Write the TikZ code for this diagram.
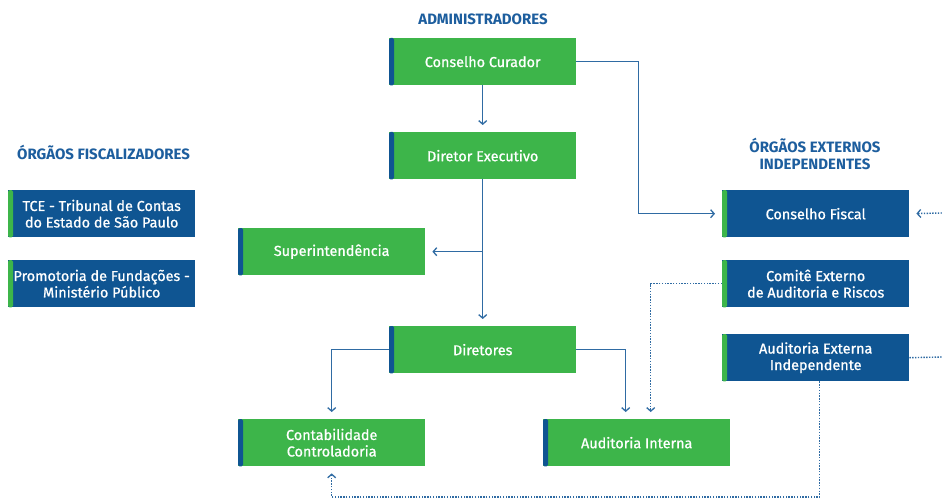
\documentclass[tikz,border=0pt]{standalone}
\usepackage{fontspec}
\setmainfont{Fira Sans}
\newfontfamily\boxfont{Fira Sans}[FakeBold=0.9]
\usetikzlibrary{arrows.meta}
\definecolor{gr}{HTML}{3DB54A}
\definecolor{bl}{HTML}{0F5592}
\definecolor{ln}{HTML}{2F6BA3}
\definecolor{tt}{HTML}{1D5E9E}
\begin{document}
\begin{tikzpicture}[x=1pt,y=-1pt,
  box/.style={rectangle,anchor=north west,minimum width=187pt,minimum height=47pt,inner sep=0pt,text=white,align=center,font=\boxfont\fontsize{14.4}{16.5}\selectfont},
  gbox/.style={box,fill=gr},
  bbox/.style={box,fill=bl},
  title/.style={text=tt,font=\bfseries\fontsize{15}{17}\selectfont,align=center,inner sep=0pt},
  conn/.style={draw=ln,line width=1.4pt,-{Straight Barb[length=3.5pt,width=8pt,line width=1.3pt]},shorten >=7pt},
  dconn/.style={conn,dash pattern=on 1.4pt off 1.4pt},
  dline/.style={draw=ln,line width=1.4pt,dash pattern=on 1.4pt off 1.4pt}
]
\useasboundingbox[fill=white] (0,0) rectangle (942,500);
% titles
\node[title] (tadm) at (483,19) {ADMINISTRADORES};
\node[title,anchor=west] (tfis) at (17,152) {ÓRGÃOS FISCALIZADORES};
\node[title] (text) at (815,154) {ÓRGÃOS EXTERNOS\\INDEPENDENTES};
% green boxes
\node[gbox] (cc) at (389,38) {Conselho Curador};
\node[gbox] (de) at (389,132) {Diretor Executivo};
\node[gbox] (su) at (238,228) {Superintendência};
\node[gbox] (di) at (389,326) {Diretores};
\node[gbox] (co) at (238,419) {Contabilidade\\Controladoria};
\node[gbox] (ai) at (543,419) {Auditoria Interna};
% blue boxes
\node[bbox] (tce) at (8,190) {TCE - Tribunal de Contas\\do Estado de São Paulo};
\node[bbox] (pro) at (8,260) {Promotoria de Fundações -\\Ministério Público};
\node[bbox] (cf) at (722,190) {Conselho Fiscal};
\node[bbox] (ce) at (722,260) {Comitê Externo\\de Auditoria e Riscos};
\node[bbox] (ae) at (722,334) {Auditoria Externa\\Independente};
% stripes
\foreach \n in {cc,de,su,di,co,ai}
  \fill[bl,rounded corners=1.5pt] (\n.north west) rectangle ([xshift=5pt]\n.south west);
\foreach \n in {tce,pro,cf,ce,ae}
  \fill[gr,rounded corners=1.5pt] (\n.north west) rectangle ([xshift=5pt]\n.south west);
% solid connectors
\draw[conn] (cc.south) -- (de.north);
\draw[conn] (de.south) -- (di.north);
\draw[conn] (de.south |- su.east) -- (su.east);
\draw[conn] (cc.east) -- ++(62,0) |- (cf.west);
\draw[conn] (di.west) -| (co.north);
\draw[conn] (di.east) -| ([xshift=-11pt]ai.north);
% dotted connectors
\draw[dconn] (ce.west) -| ([xshift=14pt]ai.north);
\coordinate (edgeA) at (942,213);
\coordinate (edgeB) at (942,357);
\coordinate (bottom) at (0,497);
\draw[dconn] (edgeA) -- (cf.east);
\draw[dline] (ae.east) -- (edgeB);
\draw[dconn] ([xshift=4pt]ae.south) -- ([xshift=4pt]ae.south |- bottom) -| (co.south);
\end{tikzpicture}
\end{document}
